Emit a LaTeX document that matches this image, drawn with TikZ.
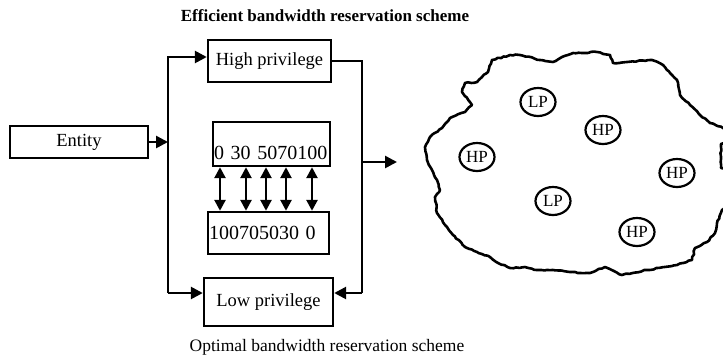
\documentclass[tikz,border=0pt]{standalone}
\usepackage{fontspec}
\setmainfont{Liberation Serif}
\usetikzlibrary{arrows.meta,shapes.geometric,decorations.pathmorphing}
\begin{document}
\begin{tikzpicture}[x=1pt,y=-1pt,
  box/.style={draw,line width=2.4pt,inner sep=0pt,font=\fontsize{18.5}{20}\selectfont},
  arr/.style={line width=2.6pt,-{Triangle[length=12pt,width=12pt]}},
  darr/.style={line width=2.6pt,{Triangle[length=11pt,width=11pt]}-{Triangle[length=11pt,width=11pt]}},
  pn/.style={draw,ellipse,line width=2.2pt,minimum width=35pt,minimum height=28pt,inner sep=0pt,font=\fontsize{17}{18}\selectfont},
  ttl/.style={font=\fontsize{17.5}{18}\selectfont}]
\useasboundingbox (0,0) rectangle (723,362);
\node[ttl,font=\fontsize{17}{18}\selectfont\bfseries] (t1) at (325,16) {Efficient bandwidth reservation scheme};
\node[ttl] (t2) at (327,347) {Optimal bandwidth reservation scheme};
\node[box,minimum width=138pt,minimum height=32pt] (entity) at (79,142) {Entity};
\node[box,minimum width=123pt,minimum height=42pt] (high) at (269.5,61) {High privilege};
\node[box,minimum width=117pt,minimum height=44pt,text width=115pt,align=left,inner xsep=1pt,text height=30pt,text depth=0pt,font=\fontsize{20}{22}\selectfont] (num1) at (271.5,144) {0 30 5070100};
\node[box,minimum width=121pt,minimum height=42pt,text width=119pt,align=left,inner xsep=1pt,font=\fontsize{20}{22}\selectfont] (num2) at (268.5,233) {100705030 0};
\node[box,minimum width=129pt,minimum height=48pt] (low) at (268.5,302) {Low privilege};
\coordinate (ej) at (168,142);
\coordinate (lt) at (168,57);
\coordinate (lb) at (168,293);
\coordinate (rt) at (362,61);
\coordinate (rb) at (362,293);
\coordinate (ro) at (362,162);
\coordinate (out) at (397,162);
\draw[arr] (entity.east) -- (ej);
\draw[arr] (lb) -- (lt) -- (high.west |- lt);
\draw[arr] (lb) -- (low.west |- lb);
\draw[line width=2.6pt] (high.east) -- (rt) -- (rb);
\draw[arr] (rb) -- (low.east |- rb);
\draw[arr] (ro) -- (out);
\foreach \x in {220,246,266,286,312} \draw[darr] (\x,0 |- num1.south) -- (\x,0 |- num2.north);
\begin{scope}
\clip (0,0) rectangle (723,362);
\pgfmathsetseed{7}
\draw[line width=2.6pt,line join=round,decorate,decoration={random steps,segment length=3pt,amplitude=0.6pt}]
 (425,147) -- (430,137) -- (442,128) -- (450,118) -- (465,112) -- (472,105) -- (462,92) -- (465,83) -- (477,82) -- (482,77) -- (488,72) -- (492,60) -- (510,55) -- (520,55) -- (540,60) -- (553,62) -- (562,57) -- (573,53) -- (597,52) -- (610,55) -- (613,63) -- (627,62) -- (652,60) -- (663,65) -- (670,73) -- (677,80) -- (680,95) -- (690,105) -- (700,115) -- (710,123) -- (723,128) -- (732,132) -- (732,142) -- (721,144) -- (721,168) -- (732,172) -- (732,205) -- (722,210) -- (717,223) -- (715,233) -- (707,242) -- (695,248) -- (692,260) -- (677,265) -- (647,270) -- (622,275) -- (605,267) -- (590,273) -- (570,272) -- (553,270) -- (537,270) -- (525,267) -- (510,268) -- (498,263) -- (490,257) -- (477,252) -- (465,247) -- (453,235) -- (447,227) -- (437,213) -- (435,197) -- (440,190) -- (437,180) -- (427,160) -- cycle;
\end{scope}
\node[pn] (p1) at (538,102) {LP};
\node[pn] (p2) at (603,130) {HP};
\node[pn] (p3) at (477,157) {HP};
\node[pn] (p4) at (677,173) {HP};
\node[pn] (p5) at (553,201) {LP};
\node[pn] (p6) at (637,232) {HP};
\end{tikzpicture}
\end{document}
